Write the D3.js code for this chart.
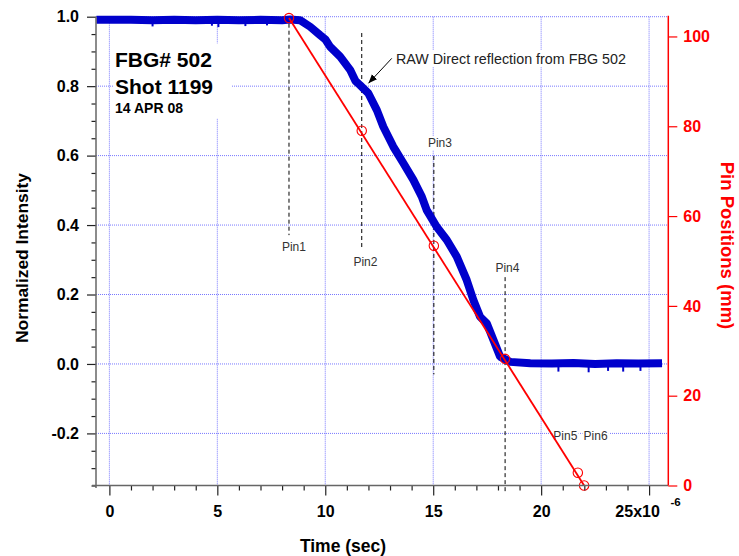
<!DOCTYPE html>
<html><head><meta charset="utf-8">
<script src="https://cdn.jsdelivr.net/npm/d3@7/dist/d3.min.js"></script>
<style>
body{margin:0;background:#fff}
svg{display:block}
text{font-family:Arial,"Liberation Sans",sans-serif}
</style>
</head><body>
<svg id="chart" width="739" height="556"></svg>
<script>
// ---------------- data ----------------
const rawTime = [-0.6, 1.0, 2.0, 3.0, 4.0, 5.0, 6.0, 7.0, 8.0, 8.37, 8.83, 9.30, 9.76, 10.0, 10.22, 10.69, 11.15, 11.40, 11.61, 12.0, 12.39, 12.69, 13.15, 13.62, 14.08, 14.47, 14.70, 15.16, 15.63, 16.09, 16.55, 16.86, 17.17, 17.48, 17.79, 18.10, 18.56, 19.5, 20.5, 21.5, 22.5, 23.5, 24.5, 25.6];
const rawIntensity = [0.991, 0.991, 0.990, 0.991, 0.990, 0.991, 0.990, 0.991, 0.990, 0.992, 0.990, 0.971, 0.947, 0.935, 0.914, 0.885, 0.847, 0.815, 0.803, 0.779, 0.731, 0.683, 0.626, 0.578, 0.530, 0.482, 0.443, 0.395, 0.357, 0.309, 0.242, 0.184, 0.136, 0.117, 0.069, 0.021, 0.006, 0.002, 0.001, 0.003, 0.000, 0.002, 0.001, 0.002];
// noise spikes visible on the plateaus
const spikeTime = [2.0, 4.75, 5.05, 6.3, 7.3, 20.8, 22.2, 23.1, 23.8, 24.6];
const spikeBase = [0.99, 0.99, 0.99, 0.99, 0.99, 0.0, 0.0, 0.0, 0.0, 0.0];
const spikeLow  = [0.972, 0.974, 0.970, 0.973, 0.975, -0.022, -0.024, -0.020, -0.022, -0.020];

const pinNames = ["Pin1", "Pin2", "Pin3", "Pin4", "Pin5", "Pin6"];
const pinTime  = [8.32, 11.69, 15.03, 18.33, 21.70, 21.99];
const pinPos   = [104.1, 79.0, 53.4, 28.2, 2.85, 0.0];
// dashed marker lines (intensity units) and label anchors
const pinLineTop    = [1.0, 0.953, 0.599, 0.25, null, null];
const pinLineBottom = [0.371, 0.334, -0.03, -0.369, null, null];
const pinLabelTime  = [8.55, 11.86, 15.31, 18.44, 21.12, 22.52];
const pinLabelInt   = [0.338, 0.294, 0.636, 0.277, -0.207, -0.207];

const fitTime = [8.32, 21.99];
const fitPos  = [104.1, 0.0];

const xMajor = [0, 5, 10, 15, 20, 25];
const xMinor = d3.range(1, 25, 1).filter(d => d % 5 !== 0);
const yMajor = [-0.2, 0.0, 0.2, 0.4, 0.6, 0.8, 1.0];
const yMinor = d3.range(-0.35, 1.0001, 0.05).map(d => +d.toFixed(2)).filter(d => Math.abs(Math.round(d * 5) - d * 5) > 1e-6);
const rMajor = [0, 20, 40, 60, 80, 100];

// ---------------- scales ----------------
const L = 96, R = 668.3, T = 16.7, B = 485.5;
const x  = d3.scaleLinear().domain([-0.62, 25.89]).range([L, R]);
const yL = d3.scaleLinear().domain([-0.35, 1.0]).range([B, T]);
const yR = d3.scaleLinear().domain([0, 104.4]).range([B, T]);

const svg = d3.select("#chart");
const BLUE = "#0000cc", RED = "#ff0000", GRID = "#7878ff";
const FONT = "Arial, 'Liberation Sans', sans-serif";

// ---------------- grid ----------------
const grid = svg.append("g");
grid.selectAll(".gv").data(xMajor).join("line")
  .attr("x1", d => x(d)).attr("x2", d => x(d)).attr("y1", T).attr("y2", B)
  .attr("stroke", GRID).attr("stroke-width", 1).attr("stroke-dasharray", "1,1");
grid.selectAll(".gh").data(yMajor).join("line")
  .attr("x1", L).attr("x2", R).attr("y1", d => yL(d)).attr("y2", d => yL(d))
  .attr("stroke", GRID).attr("stroke-width", 1).attr("stroke-dasharray", "1,1");

// ---------------- annotation boxes (white backgrounds) ----------------
function boxedText(g, pad) {
  const bb = g.node().getBBox();
  g.insert("rect", ":first-child")
    .attr("x", bb.x - pad[3]).attr("y", bb.y - pad[0])
    .attr("width", bb.width + pad[1] + pad[3]).attr("height", bb.height + pad[0] + pad[2])
    .attr("fill", "#fff");
}

const info = svg.append("g");
info.append("text").attr("x", 115).attr("y", 66.5).attr("font-size", 21).attr("font-weight", "bold").text("FBG# 502");
info.append("text").attr("x", 115).attr("y", 93.5).attr("font-size", 21).attr("font-weight", "bold").text("Shot 1199");
info.append("text").attr("x", 115).attr("y", 112.5).attr("font-size", 14).attr("font-weight", "bold").text("14 APR 08");
boxedText(info, [4, 18, 3, 2]);

const rawNote = svg.append("g");
rawNote.append("text").attr("x", 396).attr("y", 64).attr("font-size", 14.3).attr("fill", "#222")
  .text("RAW Direct reflection from FBG 502");
boxedText(rawNote, [1, 2, 0, 2]);

// pin dashed lines
svg.append("g").selectAll("line").data(pinNames.map((n, i) => i).filter(i => pinLineTop[i] !== null)).join("line")
  .attr("x1", i => x(pinTime[i])).attr("x2", i => x(pinTime[i]))
  .attr("y1", i => yL(pinLineTop[i])).attr("y2", i => yL(pinLineBottom[i]))
  .attr("stroke", "#000").attr("stroke-width", 1).attr("stroke-dasharray", "4,3");

// pin labels
pinNames.forEach((n, i) => {
  const g = svg.append("g");
  g.append("text").attr("x", x(pinLabelTime[i])).attr("y", yL(pinLabelInt[i]) + 4)
    .attr("text-anchor", "middle").attr("font-size", 12).attr("fill", "#333").text(n);
  boxedText(g, [0, 1, 0, 1]);
});

// ---------------- raw data ----------------
const line = d3.line().x(d => x(d[0])).y(d => yL(d[1]));
svg.append("path").datum(rawTime.map((t, i) => [t, rawIntensity[i]]))
  .attr("d", line).attr("fill", "none").attr("stroke", BLUE).attr("stroke-width", 8)
  .attr("stroke-linejoin", "bevel");
svg.append("g").selectAll("line").data(spikeTime.map((t, i) => i)).join("line")
  .attr("x1", i => x(spikeTime[i])).attr("x2", i => x(spikeTime[i]))
  .attr("y1", i => yL(spikeBase[i])).attr("y2", i => yL(spikeLow[i]))
  .attr("stroke", BLUE).attr("stroke-width", 2);

// ---------------- fit line & pins ----------------
const lineR = d3.line().x(d => x(d[0])).y(d => yR(d[1]));
svg.append("path").datum(fitTime.map((t, i) => [t, fitPos[i]]))
  .attr("d", lineR).attr("fill", "none").attr("stroke", RED).attr("stroke-width", 1.8);
svg.append("g").selectAll("circle").data(pinTime.map((t, i) => i)).join("circle")
  .attr("cx", i => x(pinTime[i])).attr("cy", i => yR(pinPos[i])).attr("r", 4.7)
  .attr("fill", "none").attr("stroke", RED).attr("stroke-width", 1.1);

// arrow
svg.append("defs").append("marker").attr("id", "ah").attr("viewBox", "0 0 10 10")
  .attr("refX", 10).attr("refY", 5).attr("markerWidth", 9).attr("markerHeight", 9)
  .attr("markerUnits", "userSpaceOnUse").attr("orient", "auto")
  .append("path").attr("d", "M0,1 L10,5 L0,9 Z").attr("fill", "#000");
svg.append("line").attr("x1", x(13.08)).attr("y1", yL(0.88)).attr("x2", x(12.0)).attr("y2", yL(0.808))
  .attr("stroke", "#000").attr("stroke-width", 1).attr("marker-end", "url(#ah)");

// ---------------- axes ----------------
const fmtL = d => d3.format(".1f")(d).replace("\u2212", "-");
// left
const gl = svg.append("g").attr("transform", `translate(${L},0)`);
gl.call(d3.axisLeft(yL).tickValues(yMinor).tickSize(4.5).tickFormat(""));
gl.select(".domain").remove();
const gl2 = svg.append("g").attr("transform", `translate(${L},0)`);
gl2.call(d3.axisLeft(yL).tickValues(yMajor).tickSize(9).tickPadding(8).tickFormat(fmtL));
gl2.select(".domain").remove();
svg.append("line").attr("x1", L).attr("x2", L).attr("y1", T).attr("y2", 488).attr("stroke", "#666").attr("stroke-width", 1.5);

// bottom
const gb = svg.append("g").attr("transform", `translate(0,${B})`);
gb.call(d3.axisBottom(x).tickValues(xMinor).tickSize(5).tickFormat(""));
gb.select(".domain").remove();
const gb2 = svg.append("g").attr("transform", `translate(0,${B})`);
gb2.call(d3.axisBottom(x).tickValues(xMajor).tickSize(10).tickPadding(10)
  .tickFormat(d => d === 25 ? "25x10" : String(d)));
gb2.select(".domain").remove();
gb2.selectAll(".tick text").filter(d => d === 25).attr("dx", -12);
svg.append("line").attr("x1", 92).attr("x2", R).attr("y1", B).attr("y2", B).attr("stroke", "#666").attr("stroke-width", 1.5);
svg.append("text").attr("x", 670.5).attr("y", 506).attr("font-size", 11.5).attr("font-weight", "bold").text("-6");

[gl, gl2, gb, gb2].forEach(g => {
  g.selectAll(".tick line").attr("stroke", "#222").attr("stroke-width", 1.2);
  g.selectAll(".tick text").attr("font-size", 16).attr("font-weight", "bold").attr("fill", "#000")
    .attr("font-family", FONT);
});

// right
const gr = svg.append("g").attr("transform", `translate(${R},0)`);
gr.call(d3.axisRight(yR).tickValues(rMajor).tickSize(9).tickPadding(6).tickFormat(d3.format("d")));
gr.select(".domain").remove();
gr.selectAll(".tick line").attr("stroke", RED).attr("stroke-width", 1.2);
gr.selectAll(".tick text").attr("font-size", 16).attr("font-weight", "bold").attr("fill", RED)
  .attr("font-family", FONT);
svg.append("line").attr("x1", R).attr("x2", R).attr("y1", T - 1).attr("y2", B).attr("stroke", RED).attr("stroke-width", 1.5);

// titles
svg.append("text").attr("transform", "translate(28,258) rotate(-90)").attr("text-anchor", "middle")
  .attr("font-size", 17.4).attr("font-weight", "bold").text("Normalized Intensity");
svg.append("text").attr("transform", "translate(721,245.5) rotate(90)").attr("text-anchor", "middle")
  .attr("font-size", 18.5).attr("font-weight", "bold").attr("fill", RED).text("Pin Positions (mm)");
svg.append("text").attr("x", 343).attr("y", 552).attr("text-anchor", "middle")
  .attr("font-size", 17.5).attr("font-weight", "bold").text("Time (sec)");
</script>
</body></html>
